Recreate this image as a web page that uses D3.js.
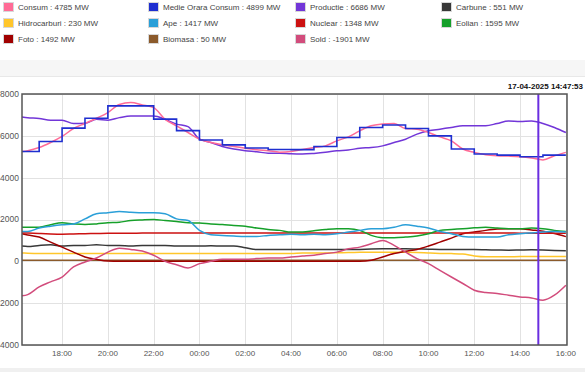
<!DOCTYPE html>
<html>
<head>
<meta charset="utf-8">
<script src="https://cdn.jsdelivr.net/npm/d3@7"></script>
<style>
  body { margin: 0; background: #fff; }
  svg { display: block; font-family: "Liberation Sans", Arial, sans-serif; }
</style>
</head>
<body>
<svg id="chart"></svg>
<script>
var width = 585,
  height = 372;

// timestamps, 16-04-2025 16:15 -> 17-04-2025 16:00
var times = ["16:15","16:30","17:00","17:30","18:00","18:30","19:00","19:30","20:00","20:30","21:00","21:30",
  "22:00","22:30","23:00","23:30","00:00","00:30","01:00","01:30","02:00","02:30","03:00","03:30",
  "04:00","04:30","05:00","05:30","06:00","06:30","07:00","07:30","08:00","08:30","09:00","09:30",
  "10:00","10:30","11:00","11:30","12:00","12:30","13:00","13:30","14:00","14:30","15:00","15:30","16:00"];

var consum = [5250,5290,5440,5680,5970,6350,6590,6840,7110,7500,7590,7480,7350,6790,6480,6160,5840,5680,5570,5490,5410,5330,5290,5220,5250,
  5350,5440,5520,5760,5950,6240,6480,6560,6590,6350,6320,6160,5950,5760,5370,5210,5100,5050,5030,5000,4940,4850,5050,5210];
var productie = [6900,6870,6830,6750,6750,6590,6600,6790,6750,6870,6950,6950,6950,6790,6560,6440,5840,5680,5490,5370,5290,5240,5170,5170,5140,
  5130,5160,5210,5290,5320,5410,5440,5520,5680,5840,6080,6240,6320,6400,6480,6480,6480,6590,6710,6680,6710,6590,6400,6160];
var ape = [1430,1430,1590,1680,1750,1790,2030,2270,2320,2380,2350,2320,2320,2270,2030,1950,1480,1270,1240,1210,1190,1190,1240,1270,1290,
  1270,1300,1270,1320,1400,1480,1560,1560,1630,1750,1680,1590,1430,1320,1190,1160,1160,1160,1270,1320,1360,1400,1430,1400];
var eolian = [1630,1630,1630,1750,1840,1790,1760,1790,1840,1870,1950,1980,2000,1950,1900,1840,1830,1790,1760,1710,1680,1590,1520,1480,1400,
  1400,1460,1520,1560,1560,1480,1240,1130,1130,1160,1210,1320,1480,1520,1560,1600,1630,1590,1560,1560,1590,1560,1480,1430];
var nuclear = [1360,1350,1330,1310,1300,1310,1320,1330,1340,1340,1340,1350,1350,1350,1350,1350,1350,1350,1350,1350,1350,1350,1350,1350,1350,
  1350,1350,1350,1350,1350,1350,1350,1350,1350,1350,1350,1350,1350,1350,1350,1350,1350,1350,1350,1348,1348,1348,1345,1345];
var carbune = [730,710,760,790,730,760,760,790,760,760,730,760,760,760,730,730,730,740,730,730,650,560,560,560,560,
  560,570,560,570,560,570,590,600,600,600,590,580,570,570,560,560,550,540,530,540,550,540,520,510];
var hidrocarburi = [400,390,380,380,380,380,380,380,380,380,380,380,380,380,380,380,380,380,380,380,380,380,380,380,380,
  400,400,400,410,420,430,440,440,440,430,420,400,380,370,350,260,220,220,220,230,230,230,230,230];
var biomasa = [50,50,50,50,50,50,50,50,50,50,50,50,50,50,50,50,50,50,50,50,50,50,50,50,50,
  50,50,50,50,50,50,50,50,50,50,50,50,50,50,50,50,50,50,50,50,50,50,50,50];
var foto = [1320,1260,1160,920,680,440,210,95,15,0,0,0,0,0,0,0,0,0,0,0,0,0,0,0,0,
  0,0,0,0,0,0,50,210,370,480,570,730,920,1110,1320,1400,1480,1540,1560,1560,1500,1440,1330,1180];
var sold = [-1650,-1590,-1220,-980,-750,-270,-30,160,440,630,570,490,290,0,-160,-320,-110,0,95,95,95,130,160,160,210,
  250,290,370,440,600,680,840,1000,760,440,130,-110,-430,-750,-1060,-1380,-1490,-1540,-1620,-1700,-1750,-1860,-1620,-1140];

// hourly average consumption (step line)
var medieTimes = ["16:15","17:00","18:00","19:00","20:00","21:00","22:00","23:00","00:00","01:00","02:00","03:00",
  "04:00","05:00","06:00","07:00","08:00","09:00","10:00","11:00","12:00","13:00","14:00","15:00","16:00"];
var medie = [5250,5730,6370,6840,7430,7430,6800,6250,5800,5570,5420,5350,5340,5490,5920,6400,6520,6350,6000,5370,5130,5080,5000,5080,5080];

var legendNames = ["Consum","Medie Orara Consum","Productie","Carbune","Hidrocarburi","Ape","Nuclear","Eolian","Foto","Biomasa","Sold"];
var legendValues = [4785,4899,6686,551,230,1417,1348,1595,1492,50,-1901];
var yTicks = [-4000,-2000,0,2000,4000,6000,8000];
var stamp = "17-04-2025 14:47:53";

var colors = {
  "Consum": "#ff6b96", "Medie Orara Consum": "#1f2fd0", "Productie": "#7236d8", "Carbune": "#383838",
  "Hidrocarburi": "#ffc62b", "Ape": "#2a9fd8", "Nuclear": "#cc1111", "Eolian": "#16a02a",
  "Foto": "#a00000", "Biomasa": "#8b5a2b", "Sold": "#d24c7c"
};

// turn HH:MM list into dates, rolling over midnight
function toDates(list) {
  var day = 16, prev = -1;
  return list.map(function (s) {
    var p = s.split(":"), h = +p[0], m = +p[1];
    if (h < prev) day++;
    prev = h;
    return new Date(2025, 3, day, h, m);
  });
}
var dates = toDates(times);
var medieDates = toDates(medieTimes);

var plotL = 22, plotR = 567, plotT = 94, plotB = 345;

var x = d3.scaleTime()
  .domain([new Date(2025, 3, 16, 16, 15), new Date(2025, 3, 17, 16, 3)])
  .range([plotL, plotR]);
var y = d3.scaleLinear()
  .domain([-4000, 8000])
  .range([plotB, plotT]);

var svg = d3.select("#chart").attr("width", width).attr("height", height);

// header band + footer band
svg.append("rect").attr("x", 0).attr("y", 60).attr("width", width).attr("height", 16).attr("fill", "#f6f6f6");
svg.append("line").attr("x1", 0).attr("x2", width).attr("y1", 76.5).attr("y2", 76.5).attr("stroke", "#e8e8e8");
svg.append("rect").attr("x", 0).attr("y", 368).attr("width", width).attr("height", 4).attr("fill", "#f0f0f0");

// legend
var legend = svg.append("g");
var colX = [3, 148, 295, 441], rowY = [7, 23, 39];
legendNames.forEach(function (name, i) {
  var gx = colX[i % 4], gy = rowY[Math.floor(i / 4)];
  legend.append("rect")
    .attr("x", gx + 0.5).attr("y", gy - 4.5)
    .attr("width", 10).attr("height", 9)
    .attr("fill", colors[name]).attr("stroke", "#d8d8d8");
  legend.append("text")
    .attr("x", gx + 15).attr("y", gy)
    .attr("dy", "0.35em")
    .attr("font-size", 8).attr("fill", "#444")
    .text(name + " : " + legendValues[i] + " MW");
});

svg.append("text")
  .attr("x", 583).attr("y", 86).attr("dy", "0.35em")
  .attr("text-anchor", "end")
  .attr("font-size", 8).attr("font-weight", "bold").attr("fill", "#111")
  .text(stamp);

// grid
var xTicks = x.ticks(d3.timeHour.every(2));
svg.append("g").selectAll("line").data(xTicks).enter().append("line")
  .attr("x1", function (d) { return Math.round(x(d)) + 0.5; })
  .attr("x2", function (d) { return Math.round(x(d)) + 0.5; })
  .attr("y1", plotT).attr("y2", plotB)
  .attr("stroke", "#e2e2e2");
svg.append("g").selectAll("line").data(yTicks).enter().append("line")
  .attr("x1", plotL).attr("x2", plotR)
  .attr("y1", function (d) { return Math.round(y(d)) + 0.5; })
  .attr("y2", function (d) { return Math.round(y(d)) + 0.5; })
  .attr("stroke", "#e2e2e2");

// tick labels
svg.append("g").selectAll("text").data(yTicks).enter().append("text")
  .attr("x", 19).attr("y", function (d) { return y(d); }).attr("dy", "0.35em")
  .attr("text-anchor", "end").attr("font-size", 8.5).attr("fill", "#555")
  .text(function (d) { return d; });
svg.append("g").selectAll("text").data(xTicks).enter().append("text")
  .attr("x", function (d) { return x(d); }).attr("y", 353).attr("dy", "0.35em")
  .attr("text-anchor", "middle").attr("font-size", 8).attr("fill", "#555")
  .text(d3.timeFormat("%H:%M"));

// series
var series = [
  ["Biomasa", biomasa], ["Hidrocarburi", hidrocarburi], ["Carbune", carbune], ["Foto", foto],
  ["Nuclear", nuclear], ["Eolian", eolian], ["Ape", ape], ["Sold", sold],
  ["Productie", productie], ["Consum", consum]
];
var line = d3.line()
  .x(function (d) { return x(d[0]); })
  .y(function (d) { return y(d[1]); })
  .curve(d3.curveMonotoneX);

var plot = svg.append("g");
series.forEach(function (s) {
  plot.append("path")
    .datum(dates.map(function (t, i) { return [t, s[1][i]]; }))
    .attr("d", line)
    .attr("fill", "none")
    .attr("stroke", colors[s[0]])
    .attr("stroke-width", 1.5)
    .attr("stroke-linejoin", "round");
});

var stepLine = d3.line()
  .x(function (d) { return x(d[0]); })
  .y(function (d) { return y(d[1]); })
  .curve(d3.curveStepAfter);
plot.append("path")
  .datum(medieDates.map(function (t, i) { return [t, medie[i]]; }))
  .attr("d", stepLine)
  .attr("fill", "none")
  .attr("stroke", colors["Medie Orara Consum"])
  .attr("stroke-width", 1.6);

// current time marker
var now = new Date(2025, 3, 17, 14, 47, 53);
svg.append("line")
  .attr("x1", x(now)).attr("x2", x(now))
  .attr("y1", plotT).attr("y2", plotB)
  .attr("stroke", "#6a2ee0").attr("stroke-width", 2);

// frame
svg.append("rect")
  .attr("x", plotL).attr("y", plotT)
  .attr("width", plotR - plotL).attr("height", plotB - plotT)
  .attr("fill", "none").attr("stroke", "#555").attr("stroke-width", 1.5);
</script>
</body>
</html>
